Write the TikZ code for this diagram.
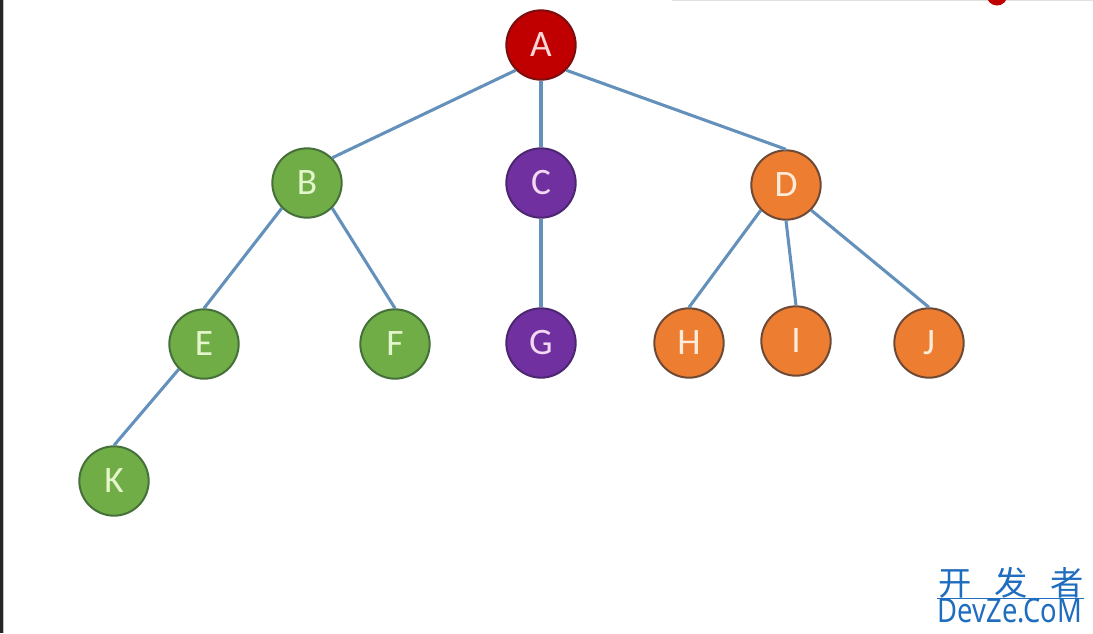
\documentclass[tikz,border=0pt]{standalone}
\usepackage{fontspec}
\setmainfont{Carlito}
\newfontfamily\cjk{Noto Sans CJK SC}
\newfontfamily\wmfont{Noto Sans}
\definecolor{redfill}{HTML}{C00000}
\definecolor{redline}{HTML}{7A0E0E}
\definecolor{redtext}{HTML}{FAD6D6}
\definecolor{greenfill}{HTML}{70AD47}
\definecolor{greenline}{HTML}{46703A}
\definecolor{greentext}{HTML}{E4F6CC}
\definecolor{purplefill}{HTML}{7030A0}
\definecolor{purpleline}{HTML}{4C2670}
\definecolor{purpletext}{HTML}{F3D8F3}
\definecolor{orangefill}{HTML}{ED7D31}
\definecolor{orangeline}{HTML}{6E4A36}
\definecolor{orangetext}{HTML}{FDEBDB}
\definecolor{edgeblue}{HTML}{6391BB}
\definecolor{wmblue}{HTML}{1F6DBE}
\begin{document}
\begin{tikzpicture}[x=0.75pt,y=-0.75pt,
  tnode/.style={circle, minimum size=52pt, inner sep=0pt, line width=1.5pt,
    font=\fontsize{28}{28}\selectfont},
  rnode/.style={tnode, fill=redfill, draw=redline, text=redtext},
  gnode/.style={tnode, fill=greenfill, draw=greenline, text=greentext},
  pnode/.style={tnode, fill=purplefill, draw=purpleline, text=purpletext},
  onode/.style={tnode, fill=orangefill, draw=orangeline, text=orangetext},
  link/.style={draw=edgeblue, line width=2.3pt}]
\useasboundingbox (0,0) rectangle (1093,633);
\fill[white] (0,0) rectangle (1093,633);
% frame artefacts
\fill[black!85] (0,0) rectangle (2.5,633);
\draw[black!25, line width=0.6pt] (3.5,0) -- (3.5,633);
\draw[black!12, line width=1pt] (672,0.6) -- (1093,0.6);
\begin{scope}
  \clip (0,0) rectangle (1093,633);
  \fill[redfill] (997,-5) circle (10.5);
\end{scope}
% nodes
\node[rnode] (A) at (541,45) {A};
\node[gnode] (B) at (307,183) {B};
\node[pnode] (C) at (541,183) {C};
\node[onode] (D) at (786,185) {D};
\node[gnode] (E) at (204,344) {E};
\node[gnode] (F) at (395,344) {F};
\node[pnode] (G) at (541,343) {G};
\node[onode] (H) at (689,343) {H};
\node[onode] (I) at (796,341) {I};
\node[onode] (J) at (929,343) {J};
\node[gnode] (K) at (114,481) {K};
% connectors
\draw[link] (A.south west) -- (B.north east);
\draw[link] (A.south) -- (C.north);
\draw[link] (A.south east) -- (D.north);
\draw[link] (B.south west) -- (E.north);
\draw[link] (B.south east) -- (F.north);
\draw[link] (C.south) -- (G.north);
\draw[link] (D.south west) -- (H.north);
\draw[link] (D.south) -- (I.north);
\draw[link] (D.south east) -- (J.north);
\draw[link] (E.south west) -- (K.north);
% watermark
\node[text=wmblue, font=\cjk\fontsize{25}{25}\selectfont, inner sep=0pt] (wm1) at (1011,583)
  {开\hspace{17pt}发\hspace{17pt}者};
\node[text=wmblue, font=\wmfont\fontsize{25}{25}\selectfont, inner sep=0pt] (wm2) at (1010,611)
  {\scalebox{0.82}[1]{DevZe.CoM}};
\draw[wmblue, line width=0.6pt] (937,598) -- (1084,598);
\end{tikzpicture}
\end{document}
